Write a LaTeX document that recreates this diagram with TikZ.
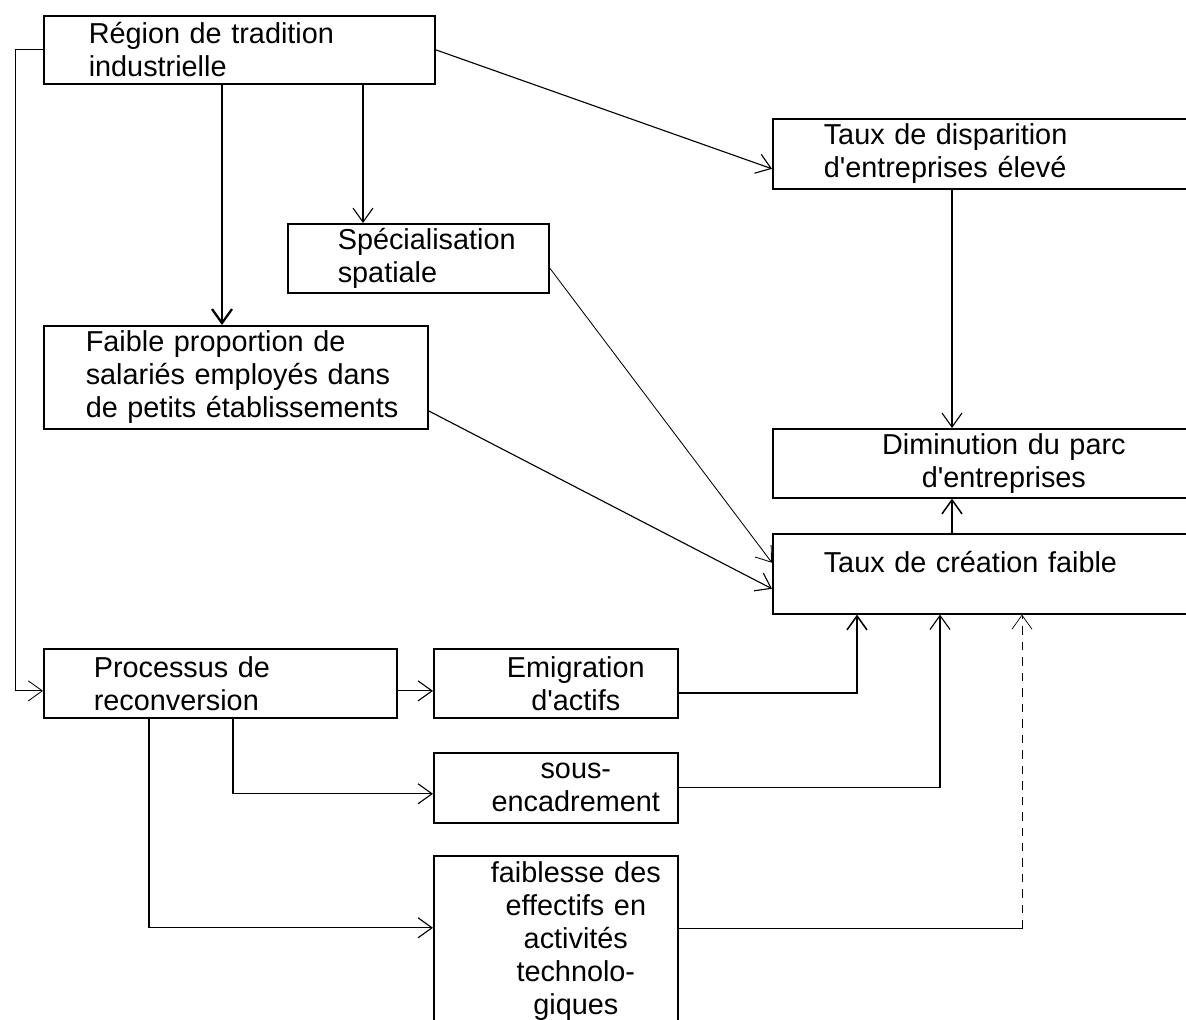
\documentclass[tikz,border=0pt]{standalone}
\usepackage{fontspec}
\setmainfont{Liberation Sans}[Ligatures=TeXOff]
\usetikzlibrary{arrows.meta,calc}

\tikzset{
  box/.style={draw, line width=1.1pt, rectangle, anchor=north west,
    inner xsep=0pt, inner ysep=2pt, align=left,
    font=\fontsize{20.5}{23.5}\selectfont},
  lbox/.style={box, execute at begin node={\leftskip=#1}},
  cbox/.style={box, align=center, execute at begin node={\advance\leftskip by #1}},
  link/.style={->, line width=0.8pt},
  >={Straight Barb[length=3.5mm,width=5mm]}
}

\begin{document}
\begin{tikzpicture}[x=0.025cm, y=-0.025cm]

\useasboundingbox (0,0) rectangle (1186,1020);

% Boxes
\node[lbox=1.125cm, text width=9.775cm, minimum height=1.7cm] (region) at (43,15) {Région de tradition\\industrielle};
\node[lbox=1.275cm, text width=10.7cm, minimum height=1.75cm] (disp) at (772,118) {Taux de disparition\\d'entreprises élevé};
\node[lbox=1.25cm, text width=6.525cm, minimum height=1.725cm] (spec) at (287,223) {Spécialisation\\spatiale};
\node[lbox=1.05cm, text width=9.6cm, minimum height=2.575cm] (faible) at (43,325) {Faible proportion de\\salariés employés dans\\de petits établissements};
\node[cbox=0.85cm, text width=10.7cm, minimum height=1.725cm] (dimin) at (772,428) {Diminution du parc\\d'entreprises};
\node[lbox=1.275cm, text width=10.7cm, minimum height=2cm] (creation) at (772,533) {Taux de création faible\\[-6.5pt]\mbox{}};
\node[lbox=1.25cm, text width=8.825cm, minimum height=1.725cm] (proc) at (43,648) {Processus de\\reconversion};
\node[cbox=1cm, text width=6.1cm, minimum height=1.725cm] (emig) at (433,648) {Emigration\\d'actifs};
\node[cbox=1cm, text width=6.1cm, minimum height=1.75cm] (sous) at (433,752) {sous-\\encadrement};
\node[cbox=1cm, text width=6.1cm, minimum height=4.25cm] (faib) at (433,855) {faiblesse des\\effectifs en\\activités\\technolo-\\giques};

% Points on the box edges
\coordinate (r1) at ($(region.south west)+(179,0)$);
\coordinate (r2) at ($(region.south west)+(320,0)$);
\coordinate (d1) at ($(disp.south west)+(180,0)$);
\coordinate (d2) at ($(creation.north west)+(180,0)$);
\coordinate (p1) at ([yshift=-0.19cm]proc.east);
\coordinate (p2) at ($(proc.south west)+(190,0)$);
\coordinate (p3) at ($(proc.south west)+(106,0)$);
\coordinate (c1) at ($(creation.south west)+(85,0)$);
\coordinate (c2) at ($(creation.south west)+(168,0)$);
\coordinate (c3) at ($(creation.south west)+(250,0)$);
\coordinate (f1) at ([yshift=0.3cm]faib.east);
\coordinate (f2) at (f1 -| c3);

% Arrows
\draw[link, line width=0.6pt] (region.west) -- ++(-28,0) |- ([yshift=-0.19cm]proc.west);
\draw[link, line width=1.6pt] (r1) -- (r1 |- faible.north);
\draw[link] (r2) -- (r2 |- spec.north);
\draw[link] (region.east) -- ([yshift=-0.375cm]disp.west);
\draw[link] (d1) -- (d1 |- dimin.north);
\draw[link, line width=1.1pt] (d2) -- (d2 |- dimin.south);
\draw[link] ([yshift=-0.84cm]faible.east) -- ([yshift=-0.375cm]creation.west);
\draw[link, line width=0.6pt] ([yshift=-0.24cm]spec.east) -- ([yshift=0.275cm]creation.west);
\draw[link] (p1) -- (p1 -| emig.west);
\draw[link] (p2) |- ([yshift=-0.15cm]sous.west);
\draw[link] (p3) |- ([yshift=0.325cm]faib.west);
\draw[link, line width=1.1pt] ([yshift=-0.24cm]emig.east) -| (c1);
\draw[link] (sous.east) -| (c2);
\draw[line width=0.8pt] (f1) -- (f2);
\draw[link, line width=0.5pt, dash pattern=on 6pt off 5pt] (f2) -- (c3);

\end{tikzpicture}
\end{document}
